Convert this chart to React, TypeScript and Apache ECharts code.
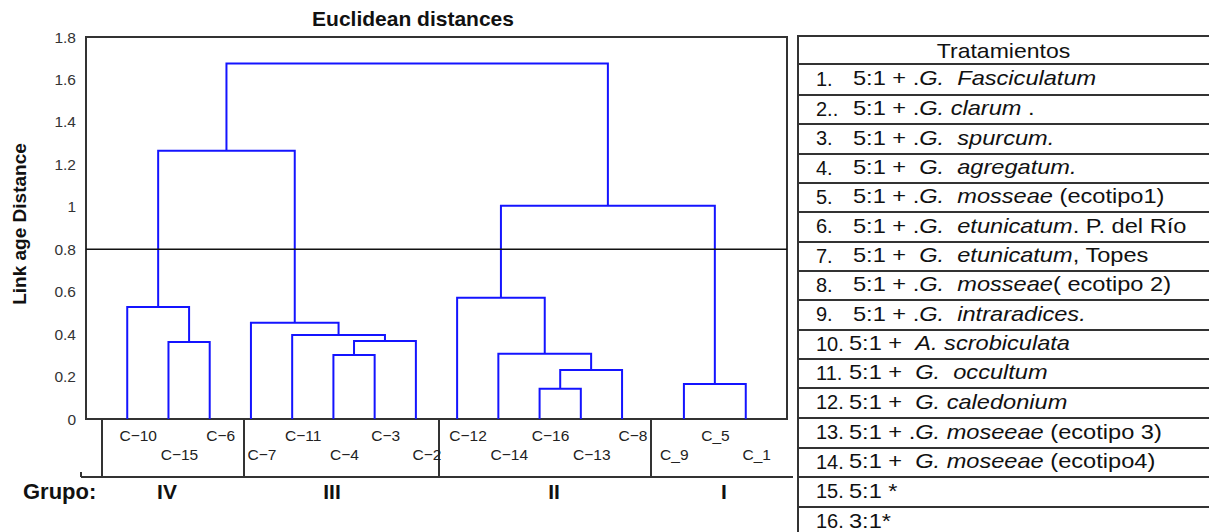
import React, { useEffect, useRef } from 'react';
import * as echarts from 'echarts';

// ---------- data ----------
const chartTitle = 'Euclidean distances';
const yAxisTitle = 'Link age Distance';
const groupTitle = 'Grupo:';
const tableHeader = 'Tratamientos';

const leaves = ['C−10', 'C−15', 'C−6', 'C−7', 'C−11', 'C−4', 'C−3', 'C−2', 'C−12', 'C−14', 'C−16', 'C−13', 'C−8', 'C_9', 'C_5', 'C_1'];

// merge k creates node "m" + k
const mergePairs: [string, string][] = [
  ['C−15', 'C−6'],
  ['C−10', 'm0'],
  ['C−4', 'C−3'],
  ['m2', 'C−2'],
  ['C−11', 'm3'],
  ['C−7', 'm4'],
  ['m1', 'm5'],
  ['C−16', 'C−13'],
  ['m7', 'C−8'],
  ['C−14', 'm8'],
  ['C−12', 'm9'],
  ['C_9', 'C_5'],
  ['m11', 'C_1'],
  ['m10', 'm12'],
  ['m6', 'm13'],
];
const mergeHeights = [0.363, 0.528, 0.302, 0.368, 0.396, 0.453, 1.264, 0.142, 0.231, 0.307, 0.571, 0, 0.165, 1.005, 1.675];

const cutHeight = 0.8;
const yMin = 0;
const yMax = 1.8;
const yStep = 0.2;

const groupNames = ['IV', 'III', 'II', 'I'];

const treatmentNums = ['1.', '2..', '3.', '4.', '5.', '6.', '7.', '8.', '9.', '10.', '11.', '12.', '13.', '14.', '15.', '16.'];
// text between ~ ~ is italic
const treatmentTexts = [
  '5:1 + .~G.  Fasciculatum~',
  '5:1 + .~G. clarum~ .',
  '5:1 + .~G.  spurcum.~',
  '5:1 +  ~G.  agregatum.~',
  '5:1 + .~G.  mosseae~ (ecotipo1)',
  '5:1 + .~G.  etunicatum~. P. del Río',
  '5:1 +  ~G.  etunicatum~, Topes',
  '5:1 + .~G.  mosseae~( ecotipo 2)',
  '5:1 + .~G.  intraradices.~',
  '5:1 +  ~A. scrobiculata~',
  '5:1 +  ~G.  occultum~',
  '5:1 +  ~G. caledonium~',
  '5:1 + .~G. moseeae~ (ecotipo 3)',
  '5:1 +  ~G. moseeae~ (ecotipo4)',
  '5:1 *',
  '3:1*',
];

// ---------- layout ----------
const FONT = '"Liberation Sans", Arial, sans-serif';
const GRID = { left: 86, top: 37, width: 701, height: 382 };
const BOX_BOTTOM = 477;
const GROUP_SEPARATORS = [244, 439, 651];
const GROUP_LABEL_X = [167, 332, 554, 724];
const TABLE_LEFT = 798;
const TABLE_RIGHT = 1212;
const TABLE_LINES = [36, 64, 95, 124, 154, 183, 212, 242, 271, 300, 330, 359, 388, 418, 448, 477, 507, 537];
const TEXT_SCALE = 1.18;

function buildSegments() {
  const pos: Record<string, number> = {};
  const hgt: Record<string, number> = {};
  leaves.forEach((l, i) => {
    pos[l] = i + 1;
    hgt[l] = 0;
  });
  return mergePairs.map(([a, b], k) => {
    const h = mergeHeights[k];
    pos['m' + k] = (pos[a] + pos[b]) / 2;
    hgt['m' + k] = h;
    return [pos[a], hgt[a], pos[b], hgt[b], h];
  });
}

function richText(s: string) {
  const parts = s.split('~');
  return parts
    .map((p, i) => (p.length ? `{${i % 2 === 1 ? 'i' : 'r'}|${p}}` : ''))
    .join('');
}

export default function App() {
  const ref = useRef<HTMLDivElement>(null);

  useEffect(() => {
    if (!ref.current) return;
    const chart = echarts.init(ref.current, undefined, { renderer: 'svg' });
    const segs = buildSegments();

    const graphics: any[] = [];
    const lineStyle = { stroke: '#333', lineWidth: 2 };
    // title
    graphics.push({
      type: 'text', x: 413, y: 18,
      style: { text: chartTitle, font: `bold 21px ${FONT}`, fill: '#111', align: 'center', verticalAlign: 'middle' },
    });
    // label box under the plot
    const gb = GRID.top + GRID.height;
    graphics.push({ type: 'line', shape: { x1: 102, y1: gb, x2: 102, y2: BOX_BOTTOM }, style: lineStyle });
    graphics.push({ type: 'line', shape: { x1: 81, y1: BOX_BOTTOM, x2: 793, y2: BOX_BOTTOM }, style: lineStyle });
    graphics.push({ type: 'line', shape: { x1: 81, y1: BOX_BOTTOM - 5, x2: 81, y2: BOX_BOTTOM }, style: lineStyle });
    GROUP_SEPARATORS.forEach((x) => {
      graphics.push({ type: 'line', shape: { x1: x, y1: gb, x2: x, y2: BOX_BOTTOM }, style: lineStyle });
    });
    graphics.push({
      type: 'text', x: 23, y: 491,
      style: { text: groupTitle, font: `bold 22px ${FONT}`, fill: '#111', align: 'left', verticalAlign: 'middle' },
    });
    groupNames.forEach((g, i) => {
      graphics.push({
        type: 'text', x: GROUP_LABEL_X[i], y: 491,
        style: { text: g, font: `bold 21px ${FONT}`, fill: '#111', align: 'center', verticalAlign: 'middle' },
      });
    });

    // table
    TABLE_LINES.forEach((y) => {
      graphics.push({ type: 'line', shape: { x1: TABLE_LEFT, y1: y, x2: TABLE_RIGHT, y2: y }, style: lineStyle });
    });
    graphics.push({ type: 'line', shape: { x1: TABLE_LEFT, y1: TABLE_LINES[0] - 1, x2: TABLE_LEFT, y2: 540 }, style: lineStyle });
    graphics.push({
      type: 'text', x: (TABLE_LEFT + 1209) / 2, y: (TABLE_LINES[0] + TABLE_LINES[1]) / 2 + 1, scaleX: 1.15,
      style: { text: tableHeader, font: `20px ${FONT}`, fill: '#111', align: 'center', verticalAlign: 'middle' },
    });
    const rich = {
      r: { fontFamily: FONT, fontSize: 20, fill: '#111', color: '#111' },
      i: { fontFamily: FONT, fontSize: 20, fontStyle: 'italic', fill: '#111', color: '#111' },
    };
    treatmentNums.forEach((n, k) => {
      const yc = (TABLE_LINES[k + 1] + TABLE_LINES[k + 2]) / 2 - 1;
      const twoDigit = /^\d\d/.test(n);
      graphics.push({
        type: 'text', x: 816, y: yc,
        style: { text: n, font: `20px ${FONT}`, fill: '#111', align: 'left', verticalAlign: 'middle' },
      });
      graphics.push({
        type: 'text', x: twoDigit ? 849 : 853, y: yc, scaleX: TEXT_SCALE,
        style: { text: richText(treatmentTexts[k]), rich, font: `20px ${FONT}`, fill: '#111', align: 'left', verticalAlign: 'middle' },
      });
    });

    chart.setOption({
      animation: false,
      grid: { ...GRID, show: true, borderColor: '#333', borderWidth: 2, backgroundColor: 'transparent' },
      xAxis: {
        type: 'value', min: 0, max: leaves.length + 1, interval: 1,
        axisLine: { show: false }, axisTick: { show: false }, splitLine: { show: false },
        axisLabel: {
          margin: 8,
          formatter: (v: number) => {
            const i = Math.round(v) - 1;
            if (i < 0 || i >= leaves.length) return '';
            return i % 2 === 0 ? `{a|${leaves[i]}}` : `{b|${leaves[i]}}`;
          },
          rich: {
            a: { fontFamily: FONT, fontSize: 15.5, color: '#222', padding: [0, 0, 0, 22] },
            b: { fontFamily: FONT, fontSize: 15.5, color: '#222', padding: [19, 0, 0, 22] },
          },
        },
      },
      yAxis: {
        type: 'value', min: yMin, max: yMax, interval: yStep,
        axisLine: { show: false }, axisTick: { show: false }, splitLine: { show: false },
        axisLabel: { fontFamily: FONT, fontSize: 15.5, color: '#333', margin: 10 },
        name: yAxisTitle, nameLocation: 'middle', nameRotate: 90, nameGap: 57,
        nameTextStyle: { fontFamily: FONT, fontWeight: 'bold', fontSize: 19, color: '#111', padding: [0, 0, 0, 8] },
      },
      series: [
        {
          type: 'custom',
          data: segs,
          encode: { x: [0, 2], y: [1, 3, 4] },
          renderItem: (params: any, api: any) => {
            const xa = api.value(0), ya = api.value(1), xb = api.value(2), yb = api.value(3), h = api.value(4);
            if (h === 0) return { type: 'group', children: [] };
            const pts = [api.coord([xa, ya]), api.coord([xa, h]), api.coord([xb, h]), api.coord([xb, yb])];
            return { type: 'polyline', shape: { points: pts }, style: { stroke: '#1414ff', lineWidth: 2, fill: 'none' } };
          },
          z: 2,
        },
        {
          type: 'line',
          data: [[0, cutHeight], [leaves.length + 1, cutHeight]],
          symbol: 'none',
          lineStyle: { color: '#111', width: 1.5 },
          z: 3,
        },
      ],
      graphic: graphics,
    });

    return () => chart.dispose();
  }, []);

  return <div ref={ref} style={{ position: 'absolute', left: 0, top: 0, width: 1209, height: 532 }} />;
}
